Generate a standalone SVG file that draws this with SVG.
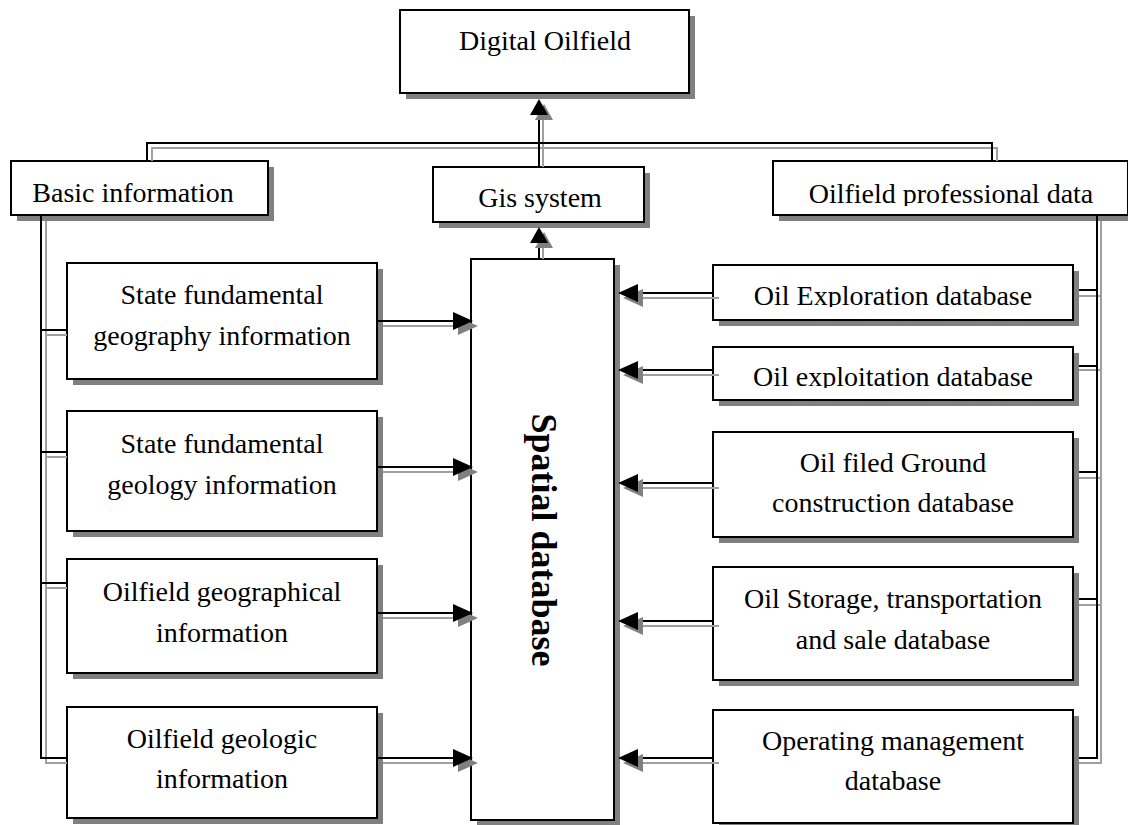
<svg xmlns="http://www.w3.org/2000/svg" xmlns:xlink="http://www.w3.org/1999/xlink" width="1128" height="825" viewBox="0 0 1128 825">
<style>
.sh{fill:#808080;stroke:none}
.bx{fill:#fff;stroke:#000;stroke-width:2}
.t{font-family:"Liberation Serif","Times New Roman",serif;font-size:28px;fill:#000;text-anchor:middle}
.tb{font-family:"Liberation Serif","Times New Roman",serif;font-size:36px;font-weight:bold;fill:#000;text-anchor:middle}
.k{fill:none;stroke:#000;stroke-width:2}
.g{fill:none;stroke:#a0a0a0;stroke-width:2}
.ah{fill:#000}
.ahs{fill:#808080}
</style>
<defs>
<g id="arR"><polygon class="ahs" points="5,5 -15,-4 -15,14"/><polygon class="ah" points="0,0 -20,-9 -20,9"/></g>
<g id="arL"><polygon class="ahs" points="5,5 25,-4 25,14"/><polygon class="ah" points="0,0 20,-9 20,9"/></g>
<g id="arU"><polygon class="ahs" points="5,5 -4,21 14,21"/><polygon class="ah" points="0,0 -9,16 9,16"/></g>
<clipPath id="c1"><rect x="700" y="150" width="428" height="56"/></clipPath>
<clipPath id="c2"><rect x="700" y="260" width="428" height="47"/></clipPath>
<clipPath id="c3"><rect x="700" y="340" width="428" height="48"/></clipPath>
</defs>

<g id="n-digital">
<rect class="sh" x="406" y="16" width="289" height="83"/>
<rect class="bx" x="400" y="10" width="289" height="83"/>
<text class="t" x="545" y="50">Digital Oilfield</text>
</g>
<g id="n-basic">
<rect class="sh" x="17" y="167" width="257" height="54"/>
<rect class="bx" x="11" y="161" width="257" height="54"/>
<text class="t" x="133" y="202">Basic information</text>
</g>
<g id="n-gis">
<rect class="sh" x="439" y="173" width="211" height="55"/>
<rect class="bx" x="433" y="167" width="211" height="55"/>
<text class="t" x="540" y="207">Gis system</text>
</g>
<g id="n-prof">
<rect class="sh" x="779" y="167" width="355" height="54"/>
<rect class="bx" x="773" y="161" width="355" height="54"/>
<text class="t" x="951" y="203" clip-path="url(#c1)">Oilfield professional data</text>
</g>
<g id="n-spatial">
<rect class="sh" x="477" y="265" width="143" height="561"/>
<rect class="bx" x="471" y="259" width="143" height="561"/>
<text class="tb" transform="translate(532,540) rotate(90)">Spatial database</text>
</g>
<g id="n-l1">
<rect class="sh" x="73" y="269" width="310" height="116"/>
<rect class="bx" x="67" y="263" width="310" height="116"/>
<text class="t" x="222" y="304">State fundamental</text>
<text class="t" x="222" y="345">geography information</text>
</g>
<g id="n-l2">
<rect class="sh" x="73" y="417" width="310" height="120"/>
<rect class="bx" x="67" y="411" width="310" height="120"/>
<text class="t" x="222" y="453">State fundamental</text>
<text class="t" x="222" y="494">geology information</text>
</g>
<g id="n-l3">
<rect class="sh" x="73" y="565" width="310" height="114"/>
<rect class="bx" x="67" y="559" width="310" height="114"/>
<text class="t" x="222" y="601">Oilfield geographical</text>
<text class="t" x="222" y="642">information</text>
</g>
<g id="n-l4">
<rect class="sh" x="73" y="713" width="310" height="111"/>
<rect class="bx" x="67" y="707" width="310" height="111"/>
<text class="t" x="222" y="748">Oilfield geologic</text>
<text class="t" x="222" y="788">information</text>
</g>
<g id="n-r1">
<rect class="sh" x="719" y="271" width="360" height="55"/>
<rect class="bx" x="713" y="265" width="360" height="55"/>
<text class="t" x="893" y="305" clip-path="url(#c2)">Oil Exploration database</text>
</g>
<g id="n-r2">
<rect class="sh" x="719" y="353" width="360" height="53"/>
<rect class="bx" x="713" y="347" width="360" height="53"/>
<text class="t" x="893" y="386" clip-path="url(#c3)">Oil exploitation database</text>
</g>
<g id="n-r3">
<rect class="sh" x="719" y="438" width="360" height="105"/>
<rect class="bx" x="713" y="432" width="360" height="105"/>
<text class="t" x="893" y="472">Oil filed Ground</text>
<text class="t" x="893" y="512">construction database</text>
</g>
<g id="n-r4">
<rect class="sh" x="719" y="573" width="360" height="113"/>
<rect class="bx" x="713" y="567" width="360" height="113"/>
<text class="t" x="893" y="608">Oil Storage, transportation</text>
<text class="t" x="893" y="649">and sale database</text>
</g>
<g id="n-r5">
<rect class="sh" x="719" y="716" width="360" height="113"/>
<rect class="bx" x="713" y="710" width="360" height="113"/>
<text class="t" x="893" y="750">Operating management</text>
<text class="t" x="893" y="790">database</text>
</g>

<g id="connectors">
<path class="g" d="M152,161 V148 H997 V161"/>
<path class="g" d="M543,167 V118 M543,259 V245"/>
<path class="g" d="M46,221 V763 H67 M46,335 H67 M46,457 H67 M46,588 H67"/>
<path class="g" d="M383,326 H458 M383,472 H458 M383,618 H458 M383,763 H458"/>
<path class="g" d="M1101,221 V763 H1079 M1079,296 H1101 M1079,370 H1101 M1079,478 H1101 M1079,605 H1101"/>
<path class="g" d="M719,298 H643 M719,375 H643 M719,488 H643 M719,626 H643 M719,763 H643"/>
<path class="k" d="M147,161 V143 H992 V161"/>
<path class="k" d="M539,167 V113 M539,259 V240"/>
<path class="k" d="M41,215 V758 H67 M41,330 H67 M41,452 H67 M41,583 H67"/>
<path class="k" d="M377,321 H455 M377,467 H455 M377,613 H455 M377,758 H455"/>
<path class="k" d="M1097,215 V758 H1079 M1079,290 H1097 M1079,366 H1097 M1079,472 H1097 M1079,599 H1097"/>
<path class="k" d="M713,293 H636 M713,370 H636 M713,483 H636 M713,621 H636 M713,758 H636"/>
<use xlink:href="#arU" x="539" y="99"/>
<use xlink:href="#arU" x="539" y="227"/>
<use xlink:href="#arR" x="473" y="321"/>
<use xlink:href="#arR" x="473" y="467"/>
<use xlink:href="#arR" x="473" y="613"/>
<use xlink:href="#arR" x="473" y="758"/>
<use xlink:href="#arL" x="618" y="293"/>
<use xlink:href="#arL" x="618" y="370"/>
<use xlink:href="#arL" x="618" y="483"/>
<use xlink:href="#arL" x="618" y="621"/>
<use xlink:href="#arL" x="618" y="758"/>
</g>
</svg>
